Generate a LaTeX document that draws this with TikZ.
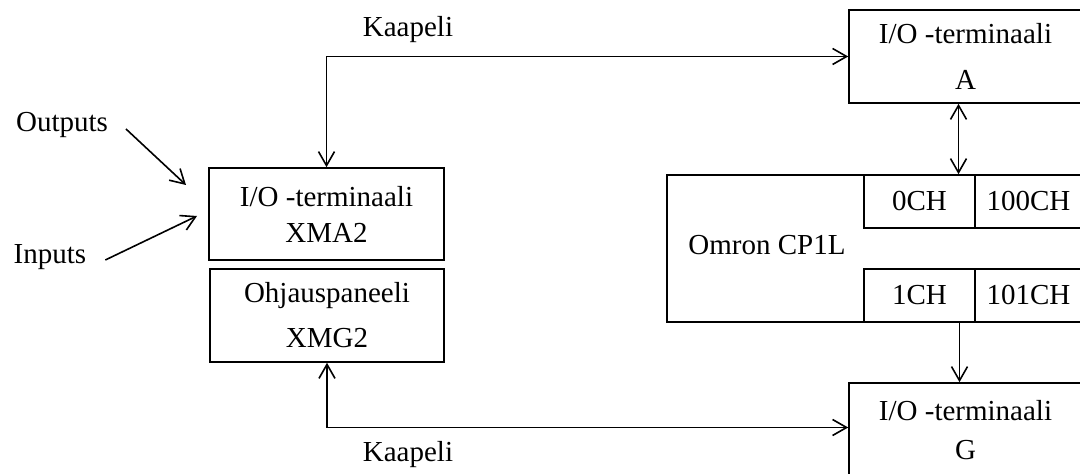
\documentclass[tikz,border=0pt]{standalone}
\usepackage{fontspec}
\setmainfont{Liberation Serif}
\usetikzlibrary{arrows.meta}

\begin{document}
\begin{tikzpicture}[x=0.5pt, y=-0.5pt, >={Straight Barb[length=7pt,width=8pt]},
  every node/.style={font=\fontsize{14.5}{18}\selectfont},
  box/.style={draw, line width=0.8pt, align=center, inner sep=0pt},
  wire/.style={line width=0.8pt}]

\useasboundingbox (0,0) rectangle (1080,474);

% left side
\node[box, minimum width=117.5pt, minimum height=46pt] (xma) at (326.5,214) {I/O -terminaali\\XMA2};
\node[box, minimum width=117pt, minimum height=46.5pt] (xmg) at (327,315.5) {Ohjauspaneeli\\[4.5pt]XMG2};

\node (outp) at (62,125) {Outputs};
\node (inp) at (50,257) {Inputs};
\coordinate (outTip) at (186,185);
\coordinate (inTip) at (197,216);
\draw[wire, ->] ([xshift=5.5pt, yshift=-2pt]outp.east) -- (outTip);
\draw[wire, ->] ([xshift=6pt, yshift=-1.5pt]inp.east) -- (inTip);

% right side
\node[box, minimum width=116.5pt, minimum height=46.5pt] (termA) at (965.5,56.5) {I/O -terminaali\\[5pt]A};
\node[box, minimum width=116.5pt, minimum height=47.5pt] (termG) at (965.5,430.5) {I/O -terminaali\\[1.5pt]G};

\node[box, minimum width=207.5pt, minimum height=73.5pt] (omron) at (874.5,248.5) {};
\node (plc) at (767,245) {Omron CP1L};
\node[box, minimum width=55.5pt, minimum height=26.5pt] (ch0) at (919.5,201.5) {0CH};
\node[box, minimum width=53.5pt, minimum height=26.5pt] (ch100) at (1028.5,201.5) {100CH};
\node[box, minimum width=55.5pt, minimum height=26.5pt] (ch1) at (919.5,295.5) {1CH};
\node[box, minimum width=53.5pt, minimum height=26.5pt] (ch101) at (1028.5,295.5) {101CH};

% cables
\draw[wire, <->] (xma.north) |- (termA.west);
\draw[wire, <->] (xmg.south) |- ([yshift=1.5pt]termG.west);
\node (kaapA) at (408,30) {Kaapeli};
\node (kaapG) at (408,455) {Kaapeli};

\coordinate (aDown) at ([xshift=-3.5pt]termA.south);
\coordinate (gUp) at ([xshift=-3pt]termG.north);
\draw[wire, <->] (aDown) -- (aDown |- omron.north);
\draw[wire, ->] (gUp |- omron.south) -- (gUp);

\end{tikzpicture}
\end{document}
